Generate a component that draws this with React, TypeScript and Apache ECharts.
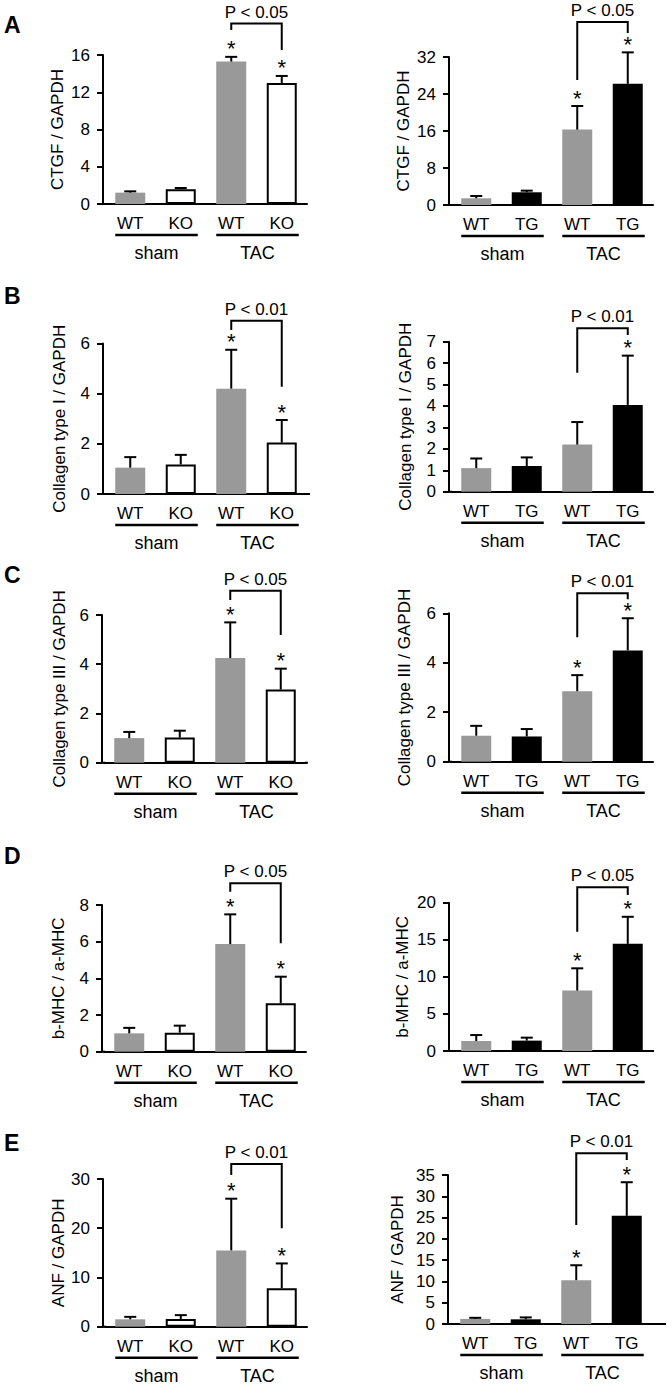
import React, { useEffect, useRef } from "react";
import * as echarts from "echarts";

const FONT = '"Liberation Sans", Arial, Helvetica, sans-serif';

// ---------- categories / labels ----------
const koCategories = ["WT", "KO", "WT", "KO"];
const tgCategories = ["WT", "TG", "WT", "TG"];
const groupNames = ["sham", "TAC"];
const panelLetters = ["A", "B", "C", "D", "E"];

// ---------- data (mean, SD) ----------
const ctgfKoMean = [1.22, 1.58, 15.3, 13.0];
const ctgfKoErr = [0.14, 0.14, 0.5, 0.75];
const ctgfTgMean = [1.45, 2.75, 16.3, 26.2];
const ctgfTgErr = [0.5, 0.35, 5.1, 6.8];

const col1KoMean = [1.05, 1.18, 4.2, 2.05];
const col1KoErr = [0.42, 0.38, 1.55, 0.9];
const col1TgMean = [1.1, 1.2, 2.2, 4.05];
const col1TgErr = [0.45, 0.4, 1.05, 2.3];

const col3KoMean = [1.0, 1.02, 4.25, 2.97];
const col3KoErr = [0.25, 0.28, 1.45, 0.85];
const col3TgMean = [1.05, 1.02, 2.85, 4.5];
const col3TgErr = [0.4, 0.3, 0.65, 1.3];

const mhcKoMean = [1.0, 1.04, 5.87, 2.64];
const mhcKoErr = [0.3, 0.38, 1.62, 1.45];
const mhcTgMean = [1.35, 1.4, 8.15, 14.45];
const mhcTgErr = [0.8, 0.4, 3.0, 3.65];

const anfKoMean = [1.5, 1.55, 15.5, 7.8];
const anfKoErr = [0.5, 0.8, 10.5, 5.05];
const anfTgMean = [1.2, 1.1, 10.3, 25.4];
const anfTgErr = [0.25, 0.45, 3.5, 7.9];

// significance vs sham
const starsBoth = [false, false, true, true];
const starsTgOnly = [false, false, false, true];

const pLabels = ["P < 0.05", "P < 0.05", "P < 0.01", "P < 0.01", "P < 0.05", "P < 0.01", "P < 0.05", "P < 0.05", "P < 0.01", "P < 0.01"];

// ---------- styles ----------
const GRAY = "#999999";
const WHITE = "#ffffff";
const BLACK = "#000000";
const koFills = [GRAY, WHITE, GRAY, WHITE];
const tgFills = [GRAY, BLACK, GRAY, BLACK];
const FS = 17;

type Panel = {
  yName: string;
  cats: string[];
  mean: number[];
  err: number[];
  star: boolean[];
  fills: string[];
  max: number;
  interval: number;
  pText: string;
  // layout
  axisX: number;
  top: number;
  zero: number;
  right: number;
  nameGap: number;
  bracketTop: number;
  legs: number[];
};

const panels: Panel[] = [
  { yName: "CTGF / GAPDH", cats: koCategories, mean: ctgfKoMean, err: ctgfKoErr, star: starsBoth, fills: koFills, max: 16, interval: 4, pText: pLabels[0],
    axisX: 103, top: 55, zero: 204, right: 307, nameGap: 37, bracketTop: 23.5, legs: [30, 50] },
  { yName: "CTGF / GAPDH", cats: tgCategories, mean: ctgfTgMean, err: ctgfTgErr, star: starsBoth, fills: tgFills, max: 32, interval: 8, pText: pLabels[1],
    axisX: 449, top: 57, zero: 205, right: 653, nameGap: 37, bracketTop: 22, legs: [80, 33] },
  { yName: "Collagen type I / GAPDH", cats: koCategories, mean: col1KoMean, err: col1KoErr, star: starsBoth, fills: koFills, max: 6, interval: 2, pText: pLabels[2],
    axisX: 103, top: 343.5, zero: 494, right: 310, nameGap: 35, bracketTop: 320.7, legs: [330, 386.7] },
  { yName: "Collagen type I / GAPDH", cats: tgCategories, mean: col1TgMean, err: col1TgErr, star: starsTgOnly, fills: tgFills, max: 7, interval: 1, pText: pLabels[3],
    axisX: 449, top: 341.7, zero: 491.7, right: 653, nameGap: 35, bracketTop: 328.3, legs: [372.7, 335] },
  { yName: "Collagen type III / GAPDH", cats: koCategories, mean: col3KoMean, err: col3KoErr, star: starsBoth, fills: koFills, max: 6, interval: 2, pText: pLabels[4],
    axisX: 102, top: 615, zero: 762.7, right: 308, nameGap: 34, bracketTop: 590.7, legs: [600, 635] },
  { yName: "Collagen type III / GAPDH", cats: tgCategories, mean: col3TgMean, err: col3TgErr, star: starsBoth, fills: tgFills, max: 6, interval: 2, pText: pLabels[5],
    axisX: 449, top: 613.3, zero: 761.7, right: 653, nameGap: 36, bracketTop: 593.3, legs: [637.3, 599.3] },
  { yName: "b-MHC / a-MHC", cats: koCategories, mean: mhcKoMean, err: mhcKoErr, star: starsBoth, fills: koFills, max: 8, interval: 2, pText: pLabels[6],
    axisX: 102, top: 905, zero: 1051.7, right: 305, nameGap: 35, bracketTop: 883.3, legs: [891.7, 943.3] },
  { yName: "b-MHC / a-MHC", cats: tgCategories, mean: mhcTgMean, err: mhcTgErr, star: starsBoth, fills: tgFills, max: 20, interval: 5, pText: pLabels[7],
    axisX: 449, top: 902.7, zero: 1051, right: 654, nameGap: 38, bracketTop: 887.3, legs: [931.7, 895] },
  { yName: "ANF / GAPDH", cats: koCategories, mean: anfKoMean, err: anfKoErr, star: starsBoth, fills: koFills, max: 30, interval: 10, pText: pLabels[8],
    axisX: 103, top: 1179, zero: 1326.7, right: 307, nameGap: 36, bracketTop: 1164, legs: [1175, 1228.3] },
  { yName: "ANF / GAPDH", cats: tgCategories, mean: anfTgMean, err: anfTgErr, star: starsBoth, fills: tgFills, max: 35, interval: 5, pText: pLabels[9],
    axisX: 448, top: 1175, zero: 1324, right: 666, nameGap: 42, bracketTop: 1153.3, legs: [1225, 1160] },
];

const letterTops = [13, 284, 563, 844, 1131];
const GRID_W = 202;

function ln(x1: number, y1: number, x2: number, y2: number, w: number) {
  return { type: "line", shape: { x1, y1, x2, y2 }, style: { stroke: BLACK, lineWidth: w }, silent: true };
}

function txt(text: string, x: number, y: number, size: number) {
  return {
    type: "text",
    silent: true,
    style: { text, x, y, fill: BLACK, font: `${size}px ${FONT}`, align: "center", verticalAlign: "middle" },
  };
}

function buildOption() {
  const grid = panels.map((p) => ({ left: p.axisX + 2, top: p.top, width: GRID_W, height: p.zero - p.top, containLabel: false }));
  const xAxis = panels.map((p, k) => ({
    type: "category",
    gridIndex: k,
    data: p.cats,
    axisLine: { show: true, lineStyle: { color: BLACK, width: 2 } },
    axisTick: { show: false },
    axisLabel: { color: BLACK, fontSize: FS, fontFamily: FONT, margin: 11, interval: 0 },
    splitLine: { show: false },
  }));
  const yAxis = panels.map((p, k) => ({
    type: "value",
    gridIndex: k,
    min: 0,
    max: p.max,
    interval: p.interval,
    offset: 2,
    name: p.yName,
    nameLocation: "middle",
    nameGap: p.nameGap,
    nameTextStyle: { color: BLACK, fontSize: FS, fontFamily: FONT },
    axisLine: { show: true, lineStyle: { color: BLACK, width: 2 } },
    axisTick: { show: true, length: 6, lineStyle: { color: BLACK, width: 2 } },
    axisLabel: { color: BLACK, fontSize: FS, fontFamily: FONT, margin: 13 },
    splitLine: { show: false },
  }));

  const series: any[] = [];
  panels.forEach((p, k) => {
    series.push({
      type: "bar",
      xAxisIndex: k,
      yAxisIndex: k,
      barWidth: 30,
      silent: true,
      data: p.mean.map((v, i) => ({
        value: v,
        itemStyle: {
          color: p.fills[i],
          borderColor: BLACK,
          borderWidth: p.fills[i] === WHITE ? 2 : 0,
        },
      })),
    });
    // error bars + asterisks
    series.push({
      type: "custom",
      xAxisIndex: k,
      yAxisIndex: k,
      clip: false,
      silent: true,
      z: 5,
      encode: { x: 0, y: 1 },
      data: p.mean.map((v, i) => [i, v, p.err[i], p.star[i] ? 1 : 0]),
      renderItem: (params: any, api: any) => {
        const i = params.dataIndex;
        const m = p.mean[i];
        const e = p.err[i];
        const top = api.coord([i, m]);
        const cap = api.coord([i, m + e]);
        const children: any[] = [
          ln(top[0], top[1], cap[0], cap[1], 2),
          ln(cap[0] - 6, cap[1], cap[0] + 6, cap[1], 2),
        ];
        if (p.star[i]) {
          children.push({
            type: "text",
            silent: true,
            style: { text: "*", x: cap[0], y: cap[1] - 14.5 + 6.5, fill: BLACK, font: `22px ${FONT}`, align: "center", verticalAlign: "middle" },
          });
        }
        return { type: "group", children };
      },
    });
    // annotations: groups, bracket, p-value
    series.push({
      type: "custom",
      xAxisIndex: k,
      yAxisIndex: k,
      clip: false,
      silent: true,
      z: 6,
      encode: { x: 0, y: 1 },
      data: [[0, 0]],
      renderItem: (_params: any, api: any) => {
        const c = [0, 1, 2, 3].map((i) => api.coord([i, 0]));
        const zeroY = c[0][1];
        const gridRight = p.axisX + 2 + GRID_W;
        const children: any[] = [];
        children.push(ln(p.axisX - 1, zeroY, p.axisX + 3, zeroY, 2));
        if (p.right > gridRight) children.push(ln(gridRight - 1, zeroY, p.right, zeroY, 2));
        for (let g = 0; g < 2; g++) {
          const x1 = c[2 * g][0] - 15;
          const x2 = c[2 * g + 1][0] + 17;
          children.push(ln(x1, zeroY + 31, x2, zeroY + 31, 2.5));
          children.push(txt(groupNames[g], (x1 + x2) / 2, zeroY + 49, 18));
        }
        const xl = c[2][0];
        const xr = c[3][0];
        children.push({
          type: "polyline",
          silent: true,
          shape: { points: [[xl, p.legs[0]], [xl, p.bracketTop], [xr, p.bracketTop], [xr, p.legs[1]]] },
          style: { stroke: BLACK, lineWidth: 2, fill: "none" },
        });
        children.push(txt(p.pText, (xl + xr) / 2, p.bracketTop - 11.5, FS));
        return { type: "group", children };
      },
    });
  });

  const graphic = panelLetters.map((L, j) => ({
    type: "text",
    left: 4,
    top: letterTops[j],
    silent: true,
    style: { text: L, fill: BLACK, font: `bold 23px ${FONT}` },
  }));

  return {
    animation: false,
    backgroundColor: "#ffffff",
    textStyle: { fontFamily: FONT },
    grid,
    xAxis,
    yAxis,
    series,
    graphic,
  };
}

export default function App() {
  const ref = useRef<HTMLDivElement>(null);
  useEffect(() => {
    if (!ref.current) return;
    const chart = echarts.init(ref.current, null, { renderer: "svg" });
    chart.setOption(buildOption() as any);
    return () => chart.dispose();
  }, []);
  return (
    <div
      ref={ref}
      style={{ position: "absolute", left: 0, top: 0, width: 672, height: 1386, background: "#fff" }}
    />
  );
}
